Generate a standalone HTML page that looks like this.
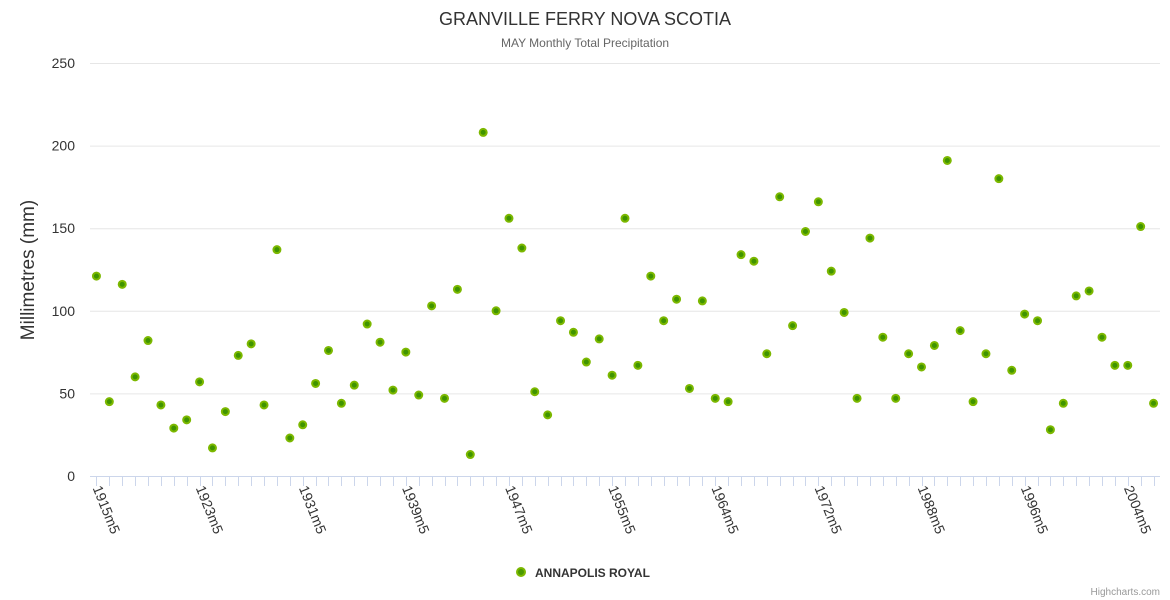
<!DOCTYPE html>
<html><head><meta charset="utf-8"><style>
body{margin:0;background:#fff;}
svg{font-family:"Liberation Sans",sans-serif;display:block;}
</style></head><body>
<svg id="chart" width="1170" height="600">
<text x="585" y="25" text-anchor="middle" font-size="18" fill="#333">GRANVILLE FERRY NOVA SCOTIA</text>
<text x="585" y="47" text-anchor="middle" font-size="12" fill="#666">MAY Monthly Total Precipitation</text>
<text transform="translate(34,270) rotate(-90)" text-anchor="middle" font-size="19" fill="#333">Millimetres (mm)</text>
<g id="grid"></g><g id="xaxis"></g><g id="pts"></g>
<g>
<circle cx="521" cy="572" r="4" fill="#4a9a00" stroke="#7cb800" stroke-width="2"/>
<text x="535" y="577" font-size="12" font-weight="bold" fill="#333">ANNAPOLIS ROYAL</text>
</g>
<text x="1160" y="595" text-anchor="end" font-size="10" fill="#999">Highcharts.com</text>
</svg>
<script>
const yTicks=[0,50,100,150,200,250];
const years=[1915,1916,1917,1918,1919,1920,1921,1922,1923,1924,1925,1926,1927,1928,1929,1930,1931,1932,1933,1934,1935,1936,1937,1938,1939,1940,1941,1942,1943,1944,1945,1946,1947,1948,1949,1950,1951,1952,1953,1954,1955,1956,1957,1958,1960,1961,1962,1963,1964,1965,1966,1967,1968,1969,1970,1971,1972,1973,1974,1975,1977,1980,1983,1986,1988,1989,1990,1991,1992,1993,1994,1995,1996,1997,1998,1999,2000,2001,2002,2003,2004,2005,2006];
const values=[121,45,116,60,82,43,29,34,57,17,39,73,80,43,137,23,31,56,76,44,55,92,81,52,75,49,103,47,113,13,208,100,156,138,51,37,94,87,69,83,61,156,67,121,94,107,53,106,47,45,134,130,74,169,91,148,166,124,99,47,144,84,47,74,66,79,191,88,45,74,180,64,98,94,28,44,109,112,84,67,67,151,44];
const NS='http://www.w3.org/2000/svg';
const L=90,R=1160,T=63,B=476,yMax=250;
const n=years.length,bw=(R-L)/n;
const xs=i=>L+bw*(i+0.5);
const ys=v=>B-(v/yMax)*(B-T);
function mk(tag,at,parent){const e=document.createElementNS(NS,tag);for(const k in at)e.setAttribute(k,at[k]);parent.appendChild(e);return e;}
const grid=document.getElementById('grid'),xa=document.getElementById('xaxis'),pts=document.getElementById('pts');
yTicks.forEach(t=>{
 if(t>0){const g=mk('line',{x1:L,x2:R,y1:ys(t)+0.5,y2:ys(t)+0.5,stroke:'#e6e6e6'},grid);
 
 }
 const tx=mk('text',{x:75,y:ys(t)+5,'text-anchor':'end','font-size':14,fill:'#333'},grid);
 tx.textContent=t;
 
 
});
const ax=mk('line',{x1:L,x2:R,y1:B+0.5,y2:B+0.5,stroke:'#ccd6eb'},xa);


years.forEach((y,i)=>{
 const x=Math.round(xs(i))+0.5;
 const tk=mk('line',{x1:x,x2:x,y1:B,y2:B+10,stroke:'#ccd6eb'},xa);
 
 
 if(i%8===0){
  const lb=mk('text',{transform:`translate(${xs(i)-4},${B+12}) rotate(68)`,'font-size':14,fill:'#333'},xa);
  lb.textContent=y+'m5';
  
  
 }
 const c=mk('circle',{cx:xs(i),cy:ys(values[i]),r:3.5,fill:'#3f9400',stroke:'#7cb800','stroke-width':2},pts);
 
 
});
</script>
</body></html>
